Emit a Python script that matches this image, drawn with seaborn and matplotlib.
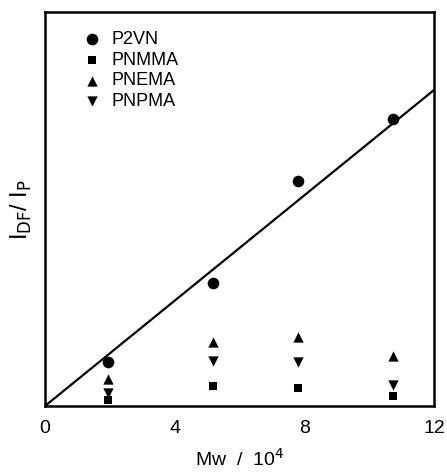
import matplotlib
matplotlib.use("Agg")
import matplotlib.pyplot as plt
import seaborn as sns
import pandas as pd

mw = [1.95, 5.18, 7.8, 10.75]
p2vn = [1.12, 3.11, 5.72, 7.28]
pnmma = [0.15, 0.52, 0.46, 0.25]
pnema = [0.68, 1.63, 1.74, 1.27]
pnpma = [0.32, 1.15, 1.12, 0.53]
series_names = ["P2VN", "PNMMA", "PNEMA", "PNPMA"]
fit_x = [0, 12]
fit_y = [0, 8.02]
xticks = [0, 4, 8, 12]

sns.set_theme(style="white")
plt.rcParams["font.family"] = ["Liberation Sans", "DejaVu Sans"]
plt.rcParams["text.color"] = "black"
plt.rcParams["axes.labelcolor"] = "black"
plt.rcParams["xtick.color"] = "black"
plt.rcParams["ytick.color"] = "black"

rows = []
for name, vals in zip(series_names, [p2vn, pnmma, pnema, pnpma]):
    for x, y in zip(mw, vals):
        rows.append({"Mw": x, "I": y, "series": name})
df = pd.DataFrame(rows)
fit_df = pd.DataFrame({"x": fit_x, "y": fit_y})

fig = plt.figure(figsize=(4.47, 4.72), dpi=100)
ax = fig.add_axes([45 / 447, 1 - 406 / 472, (434 - 45) / 447, (406 - 12) / 472])

sns.lineplot(data=fit_df, x="x", y="y", ax=ax, color="black", lw=1.6, legend=False)
markers = {"P2VN": "o", "PNMMA": "s", "PNEMA": "^", "PNPMA": "v"}
sizes_map = {"P2VN": 70, "PNMMA": 38, "PNEMA": 55, "PNPMA": 55}
for name in series_names:
    sub = df[df["series"] == name]
    sns.scatterplot(data=sub, x="Mw", y="I", ax=ax, marker=markers[name],
                    color="black", s=sizes_map[name], edgecolor="black",
                    linewidth=0, label=name, zorder=3)

ax.set_xlim(0, 12)
ax.set_ylim(0, 10)
ax.set_xticks(xticks)
ax.set_xticklabels([str(t) for t in xticks], fontsize=14, color="black")
ax.set_yticks([])
ax.tick_params(axis="x", direction="in", length=6, width=1.2, pad=10, colors="black")
for s in ax.spines.values():
    s.set_linewidth(1.8)
    s.set_color("black")

ax.set_xlabel("Mw  /  10$^4$", fontsize=14, labelpad=8, color="black")
ax.set_ylabel("I$_{\\mathrm{DF}}$/ I$_{\\mathrm{P}}$", fontsize=17, labelpad=8, color="black")

leg = ax.legend(loc="upper left", bbox_to_anchor=(0.08, 0.97), frameon=False,
                fontsize=13, handletextpad=0.55, labelspacing=0.2,
                handlelength=1.0, borderaxespad=0, labelcolor="black")

fig.savefig("out.png", dpi=100)
